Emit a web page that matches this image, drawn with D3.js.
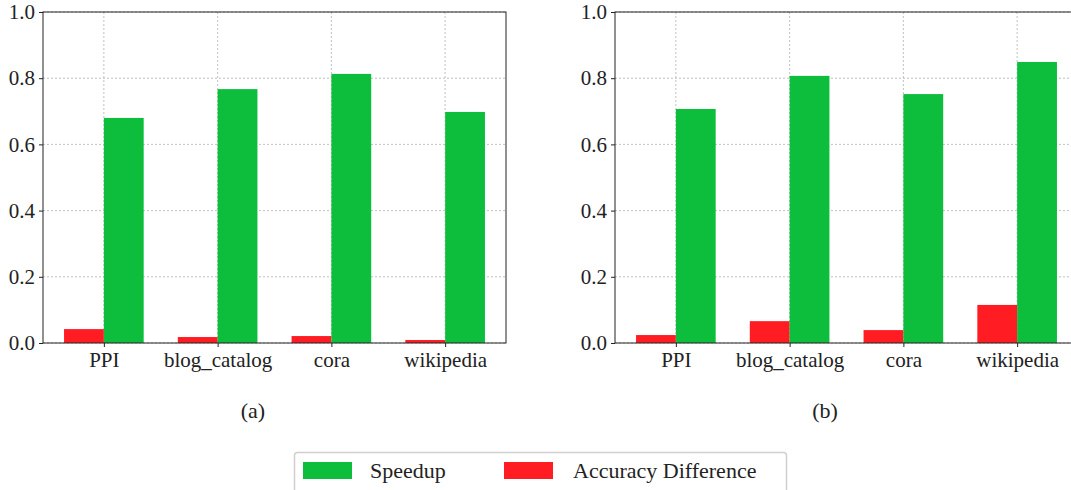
<!DOCTYPE html>
<html>
<head>
<meta charset="utf-8">
<script src="https://cdn.jsdelivr.net/npm/d3@7"></script>
<style>
  body { margin: 0; background: #fff; }
  svg { display: block; }
  .grid line { stroke: #b0b0b0; stroke-dasharray: 2,2; stroke-width: 0.8; }
  .axis path, .axis line { stroke: #222; }
  .axis text { fill: #222; }
</style>
</head>
<body>
<div id="chart"></div>
<script>
// datasets on the x axis
var categories = ["PPI", "blog_catalog", "cora", "wikipedia"];

// panel (a)
var speedupA  = [0.680, 0.767, 0.813, 0.698];
var accDiffA  = [0.042, 0.018, 0.021, 0.009];

// panel (b)
var speedupB  = [0.707, 0.807, 0.752, 0.849];
var accDiffB  = [0.024, 0.066, 0.039, 0.115];

var yTicks = [0, 0.2, 0.4, 0.6, 0.8, 1.0];
var captions = ["(a)", "(b)"];
var legendLabels = ["Speedup", "Accuracy Difference"];

var green = "#0dbd3c", red = "#ff1c23";
var barW = 0.35;
var serif = "Liberation Serif";
var fs = 21;

var W = 1071, H = 490;
var svg = d3.select("#chart").append("svg")
  .attr("width", W)
  .attr("height", H)
  .attr("font-family", serif);

var panels = [
  {left: 43,  speed: speedupA, acc: accDiffA, cap: captions[0], capX: 253},
  {left: 615, speed: speedupB, acc: accDiffB, cap: captions[1], capX: 825}
];

var plotTop = 12, plotBottom = 343, plotW = 463;

panels.forEach(function(p){

  var x = d3.scaleLinear()
    .domain([-0.535, categories.length - 1 + 0.535])
    .range([p.left, p.left + plotW]);

  var y = d3.scaleLinear()
    .domain([0, 1])
    .range([plotBottom, plotTop]);

  var g = svg.append("g");

  // grid (behind bars)
  var grid = g.append("g").attr("class", "grid");
  grid.selectAll(".gy").data(yTicks).enter().append("line")
    .attr("x1", p.left).attr("x2", p.left + plotW)
    .attr("y1", function(d){ return y(d); })
    .attr("y2", function(d){ return y(d); });
  grid.selectAll(".gx").data(categories).enter().append("line")
    .attr("x1", function(d, i){ return x(i); })
    .attr("x2", function(d, i){ return x(i); })
    .attr("y1", plotTop).attr("y2", plotBottom);

  // accuracy difference bars (left of tick)
  g.selectAll(".acc").data(p.acc).enter().append("rect")
    .attr("x", function(d, i){ return x(i - barW); })
    .attr("y", function(d){ return y(d); })
    .attr("width", x(barW) - x(0))
    .attr("height", function(d){ return y(0) - y(d); })
    .attr("fill", red);

  // speedup bars (right of tick)
  g.selectAll(".spd").data(p.speed).enter().append("rect")
    .attr("x", function(d, i){ return x(i); })
    .attr("y", function(d){ return y(d); })
    .attr("width", x(barW) - x(0))
    .attr("height", function(d){ return y(0) - y(d); })
    .attr("fill", green);

  // axes
  var yAxis = d3.axisLeft(y).tickValues(yTicks).tickFormat(d3.format(".1f")).tickSize(4).tickPadding(4);
  g.append("g").attr("class", "axis")
    .attr("transform", "translate(" + p.left + ",0)")
    .call(yAxis)
    .attr("font-family", serif).attr("font-size", fs)
    .call(function(s){ s.select(".domain").remove(); });

  var xAxis = d3.axisBottom(x)
    .tickValues(d3.range(categories.length))
    .tickFormat(function(d){ return categories[d]; })
    .tickSize(4).tickPadding(5);
  g.append("g").attr("class", "axis")
    .attr("transform", "translate(0," + plotBottom + ")")
    .call(xAxis)
    .attr("font-family", serif).attr("font-size", fs)
    .call(function(s){ s.select(".domain").remove(); });

  // frame
  g.append("rect")
    .attr("x", p.left).attr("y", plotTop)
    .attr("width", plotW).attr("height", plotBottom - plotTop)
    .attr("fill", "none").attr("stroke", "#222").attr("stroke-width", 1);

  // caption
  g.append("text")
    .attr("x", p.capX).attr("y", 418)
    .attr("text-anchor", "middle")
    .attr("font-size", fs + 1)
    .attr("fill", "#222")
    .text(p.cap);
});

// legend
var lg = svg.append("g");
lg.append("rect")
  .attr("x", 294.5).attr("y", 452.5)
  .attr("width", 492).attr("height", 50)
  .attr("rx", 3)
  .attr("fill", "#fff").attr("stroke", "#d0d0d0").attr("stroke-width", 1.5);

var legItems = [
  {label: legendLabels[0], color: green, px: 303, tx: 370},
  {label: legendLabels[1], color: red,   px: 504, tx: 573}
];
legItems.forEach(function(it){
  lg.append("rect")
    .attr("x", it.px).attr("y", 462)
    .attr("width", 49).attr("height", 17)
    .attr("fill", it.color);
  lg.append("text")
    .attr("x", it.tx).attr("y", 478)
    .attr("font-size", fs + 1)
    .attr("fill", "#222")
    .text(it.label);
});
</script>
</body>
</html>
